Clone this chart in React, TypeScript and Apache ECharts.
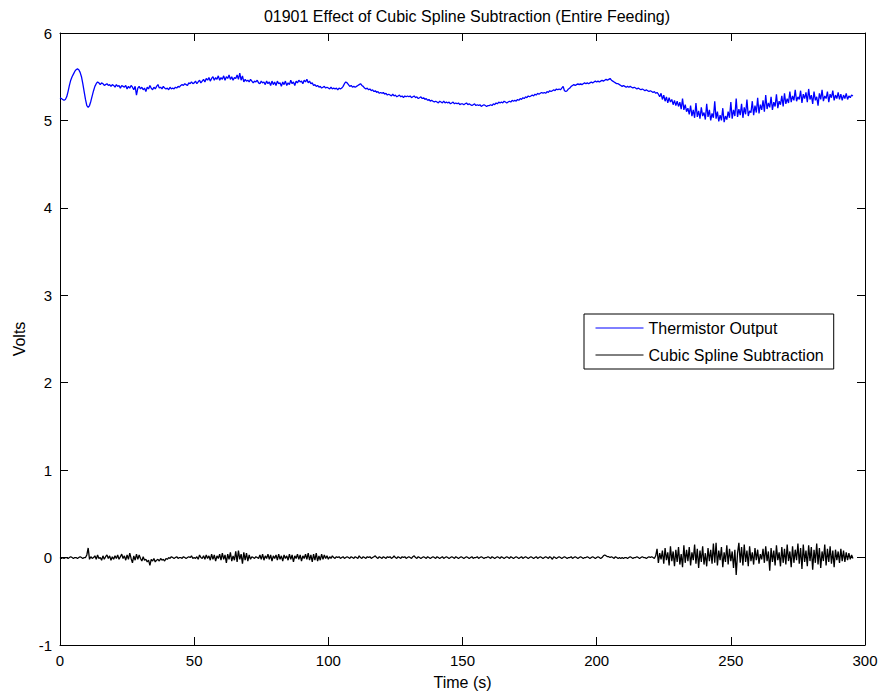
import { useEffect, useRef } from "react";
import * as echarts from "echarts";

// Seconds between consecutive samples (both traces share the same time base)
const SAMPLE_STEP = 0.5;

const TITLE = "01901 Effect of Cubic Spline Subtraction (Entire Feeding)";
const X_NAME = "Time (s)";
const Y_NAME = "Volts";
const SERIES_NAMES = ["Thermistor Output", "Cubic Spline Subtraction"];

// Raw thermistor voltage, one row per 10 s
const thermistorOutput = [
  5.26, 5.25, 5.24, 5.23, 5.24, 5.27, 5.33, 5.40, 5.46, 5.50, 5.53, 5.56, 5.58, 5.59, 5.58, 5.55, 5.50, 5.42, 5.33, 5.24,
  5.17, 5.15, 5.17, 5.22, 5.28, 5.34, 5.39, 5.42, 5.44, 5.43, 5.41, 5.43, 5.42, 5.40, 5.41, 5.42, 5.40, 5.41, 5.39, 5.41,
  5.40, 5.38, 5.41, 5.39, 5.40, 5.37, 5.40, 5.39, 5.38, 5.40, 5.36, 5.39, 5.37, 5.40, 5.38, 5.35, 5.39, 5.29, 5.37, 5.39,
  5.36, 5.38, 5.35, 5.37, 5.33, 5.38, 5.36, 5.40, 5.37, 5.35, 5.38, 5.36, 5.39, 5.41, 5.37, 5.38, 5.36, 5.39, 5.37, 5.36,
  5.37, 5.35, 5.38, 5.36, 5.37, 5.36, 5.38, 5.37, 5.39, 5.38, 5.40, 5.41, 5.40, 5.42, 5.41, 5.40, 5.43, 5.42, 5.44, 5.42,
  5.43, 5.45, 5.42, 5.44, 5.46, 5.43, 5.45, 5.47, 5.44, 5.48, 5.46, 5.49, 5.45, 5.48, 5.50, 5.46, 5.49, 5.47, 5.51, 5.46,
  5.49, 5.47, 5.51, 5.46, 5.50, 5.48, 5.52, 5.47, 5.50, 5.46, 5.49, 5.48, 5.52, 5.47, 5.54, 5.46, 5.51, 5.44, 5.47, 5.45,
  5.46, 5.44, 5.47, 5.45, 5.43, 5.45, 5.44, 5.46, 5.43, 5.42, 5.45, 5.43, 5.44, 5.41, 5.45, 5.42, 5.44, 5.40, 5.45, 5.41,
  5.44, 5.40, 5.45, 5.42, 5.43, 5.39, 5.44, 5.41, 5.45, 5.40, 5.43, 5.41, 5.46, 5.42, 5.44, 5.40, 5.45, 5.43, 5.46, 5.44,
  5.45, 5.42, 5.46, 5.44, 5.47, 5.43, 5.45, 5.42, 5.43, 5.40, 5.41, 5.39, 5.40, 5.38, 5.39, 5.37, 5.38, 5.39, 5.37, 5.38,
  5.37, 5.36, 5.38, 5.36, 5.37, 5.36, 5.37, 5.35, 5.37, 5.36, 5.37, 5.39, 5.42, 5.44, 5.43, 5.41, 5.39, 5.40, 5.38, 5.39,
  5.38, 5.39, 5.40, 5.41, 5.42, 5.40, 5.39, 5.37, 5.36, 5.37, 5.35, 5.36, 5.34, 5.35, 5.33, 5.34, 5.32, 5.33, 5.31, 5.32,
  5.31, 5.32, 5.30, 5.31, 5.29, 5.30, 5.29, 5.28, 5.30, 5.28, 5.29, 5.27, 5.28, 5.29, 5.27, 5.28, 5.26, 5.28, 5.27, 5.28,
  5.27, 5.28, 5.26, 5.27, 5.28, 5.26, 5.27, 5.25, 5.26, 5.27, 5.25, 5.26, 5.24, 5.25, 5.23, 5.24, 5.22, 5.23, 5.22, 5.21,
  5.22, 5.21, 5.20, 5.22, 5.21, 5.20, 5.22, 5.20, 5.21, 5.20, 5.21, 5.19, 5.20, 5.21, 5.19, 5.20, 5.19, 5.20, 5.18, 5.19,
  5.19, 5.18, 5.19, 5.20, 5.18, 5.19, 5.18, 5.17, 5.18, 5.19, 5.17, 5.18, 5.17, 5.18, 5.16, 5.17, 5.18, 5.17, 5.16, 5.17,
  5.17, 5.18, 5.17, 5.19, 5.18, 5.20, 5.19, 5.21, 5.20, 5.21, 5.20, 5.22, 5.21, 5.20, 5.21, 5.22, 5.21, 5.23, 5.22, 5.23,
  5.22, 5.24, 5.23, 5.25, 5.24, 5.26, 5.25, 5.27, 5.26, 5.28, 5.27, 5.28, 5.29, 5.28, 5.30, 5.29, 5.31, 5.30, 5.31, 5.32,
  5.31, 5.32, 5.31, 5.33, 5.32, 5.34, 5.33, 5.34, 5.35, 5.34, 5.36, 5.35, 5.36, 5.35, 5.37, 5.39, 5.34, 5.33, 5.34, 5.36,
  5.37, 5.39, 5.40, 5.41, 5.40, 5.41, 5.42, 5.41, 5.42, 5.41, 5.42, 5.43, 5.42, 5.43, 5.42, 5.43, 5.44, 5.43, 5.44, 5.45,
  5.44, 5.45, 5.44, 5.45, 5.46, 5.45, 5.46, 5.47, 5.46, 5.47, 5.48, 5.46, 5.45, 5.44, 5.43, 5.42, 5.42, 5.41, 5.40, 5.39,
  5.40, 5.39, 5.38, 5.39, 5.38, 5.39, 5.38, 5.37, 5.38, 5.37, 5.36, 5.37, 5.36, 5.35, 5.36, 5.35, 5.34, 5.35, 5.34, 5.33,
  5.34, 5.33, 5.32, 5.33, 5.31, 5.32, 5.30, 5.27, 5.31, 5.24, 5.29, 5.22, 5.27, 5.20, 5.26, 5.21, 5.24, 5.18, 5.23, 5.17,
  5.22, 5.16, 5.21, 5.13, 5.25, 5.12, 5.18, 5.10, 5.14, 5.07, 5.17, 5.05, 5.12, 5.03, 5.20, 5.04, 5.11, 5.02, 5.15, 5.05,
  5.09, 5.01, 5.19, 5.04, 5.12, 5.00, 5.08, 5.03, 5.22, 5.02, 5.10, 4.99, 5.06, 5.00, 5.14, 4.98, 5.05, 5.01, 5.10, 5.03,
  5.21, 5.02, 5.12, 5.05, 5.25, 5.04, 5.13, 5.06, 5.19, 5.03, 5.15, 5.07, 5.24, 5.05, 5.11, 5.09, 5.22, 5.06, 5.17, 5.09,
  5.26, 5.08, 5.18, 5.12, 5.23, 5.10, 5.29, 5.13, 5.20, 5.15, 5.27, 5.12, 5.21, 5.16, 5.30, 5.14, 5.22, 5.18, 5.28, 5.16,
  5.31, 5.19, 5.25, 5.20, 5.33, 5.21, 5.28, 5.23, 5.35, 5.22, 5.27, 5.24, 5.34, 5.20, 5.30, 5.25, 5.32, 5.21, 5.36, 5.24,
  5.29, 5.19, 5.33, 5.23, 5.27, 5.17, 5.31, 5.24, 5.35, 5.22, 5.28, 5.25, 5.33, 5.21, 5.30, 5.26, 5.34, 5.23, 5.29, 5.25,
  5.32, 5.24, 5.30, 5.23, 5.29, 5.25, 5.31, 5.24, 5.28, 5.26, 5.29, 5.28,
];

// Signal left after subtracting the cubic spline baseline, one row per 10 s
const splineSubtraction = [
  0.00, -0.01, 0.00, -0.01, 0.00, 0.00, -0.01, 0.00, 0.01, 0.00, -0.01, 0.00, 0.00, -0.01, 0.00, 0.01, 0.00, -0.01, 0.00, 0.00,
  0.03, 0.11, -0.02, 0.01, -0.01, 0.00, 0.02, -0.02, 0.03, -0.01, 0.00, -0.03, 0.02, -0.02, 0.01, 0.03, -0.01, 0.02, -0.03, 0.01,
  -0.02, 0.02, -0.01, 0.03, -0.02, 0.01, 0.04, -0.01, 0.02, -0.03, 0.03, -0.02, 0.05, -0.01, -0.06, 0.02, -0.03, 0.04, -0.02, 0.03,
  -0.01, -0.04, 0.01, -0.03, -0.02, -0.05, -0.03, -0.09, -0.02, -0.04, -0.01, -0.05, -0.03, -0.02, -0.04, -0.01, -0.03, -0.02, -0.04, -0.01,
  -0.02, 0.00, -0.01, 0.01, 0.00, -0.01, 0.00, 0.01, -0.01, 0.00, 0.00, -0.01, 0.01, 0.00, -0.01, 0.00, 0.01, 0.00, 0.02, -0.01,
  0.00, -0.01, 0.01, -0.02, 0.03, 0.00, -0.01, 0.02, -0.02, 0.03, -0.01, 0.02, -0.03, 0.04, -0.02, 0.03, -0.04, 0.02, -0.01, 0.04,
  -0.03, 0.05, -0.02, 0.03, -0.06, 0.04, -0.02, 0.06, -0.04, 0.02, -0.03, 0.07, -0.05, 0.08, -0.02, 0.04, -0.07, 0.06, -0.03, 0.05,
  -0.04, 0.03, -0.02, 0.01, 0.00, -0.01, 0.01, 0.00, -0.01, 0.03, -0.02, 0.04, -0.03, 0.02, -0.01, 0.04, -0.02, 0.03, -0.04, 0.02,
  -0.01, 0.03, -0.03, 0.04, -0.02, 0.02, -0.04, 0.03, -0.01, 0.02, -0.03, 0.04, -0.02, 0.03, -0.05, 0.02, -0.01, 0.04, -0.02, 0.03,
  -0.04, 0.02, -0.01, 0.04, -0.02, 0.05, -0.03, 0.03, -0.05, 0.04, -0.03, 0.05, -0.04, 0.02, -0.03, 0.04, -0.02, 0.03, -0.01, 0.02,
  -0.02, 0.01, -0.01, 0.02, 0.00, -0.01, 0.01, 0.00, 0.01, -0.01, 0.00, 0.01, -0.01, 0.00, 0.01, 0.00, -0.01, 0.01, 0.00, -0.01,
  0.01, 0.00, -0.01, 0.02, 0.00, -0.01, 0.01, 0.00, -0.01, 0.01, 0.00, 0.01, -0.01, 0.00, 0.01, 0.02, 0.00, -0.01, 0.01, 0.00,
  -0.01, 0.01, 0.00, -0.01, 0.01, 0.00, 0.01, -0.01, 0.00, 0.02, 0.00, -0.01, 0.01, 0.00, -0.01, 0.01, 0.00, 0.01, -0.01, 0.00,
  0.01, 0.00, -0.01, 0.01, 0.02, 0.00, -0.01, 0.01, 0.00, -0.01, 0.00, 0.01, 0.00, -0.01, 0.01, 0.00, -0.01, 0.00, 0.01, 0.00,
  -0.01, 0.01, 0.00, -0.01, 0.00, 0.01, -0.01, 0.00, 0.01, 0.00, -0.01, 0.00, 0.01, 0.00, -0.01, 0.01, 0.00, -0.01, 0.00, 0.01,
  0.00, -0.01, 0.00, 0.01, 0.00, -0.01, 0.00, 0.01, -0.01, 0.00, 0.00, 0.01, -0.01, 0.00, 0.01, 0.00, -0.01, 0.00, 0.00, 0.01,
  0.00, -0.01, 0.01, 0.00, -0.01, 0.00, 0.01, 0.00, -0.01, 0.01, 0.00, -0.01, 0.00, 0.01, 0.00, -0.01, 0.01, 0.00, -0.01, 0.00,
  0.01, 0.00, -0.01, 0.00, 0.01, -0.01, 0.00, 0.01, 0.00, -0.01, 0.00, 0.01, 0.00, -0.01, 0.00, 0.01, -0.01, 0.00, 0.01, 0.00,
  -0.01, 0.00, 0.01, 0.00, -0.01, 0.01, 0.00, -0.02, 0.01, 0.00, -0.01, 0.00, 0.01, 0.00, -0.01, 0.00, 0.01, 0.00, -0.01, 0.00,
  0.00, 0.01, -0.01, 0.00, 0.01, 0.00, -0.01, 0.00, 0.01, 0.00, -0.01, 0.00, 0.00, 0.01, 0.00, -0.01, 0.00, 0.01, 0.00, -0.01,
  0.00, 0.01, 0.00, -0.01, 0.00, 0.02, 0.03, 0.02, 0.01, 0.01, 0.00, 0.01, 0.00, -0.01, 0.01, 0.00, -0.01, 0.00, -0.01, 0.00,
  -0.01, 0.00, 0.00, -0.01, 0.00, 0.01, 0.00, -0.01, 0.00, 0.00, 0.01, 0.00, -0.01, 0.00, 0.01, 0.00, 0.00, -0.01, 0.00, 0.01,
  0.00, 0.01, 0.00, -0.01, 0.02, 0.10, -0.06, 0.05, -0.02, 0.08, -0.07, 0.11, -0.03, 0.06, -0.09, 0.13, -0.04, 0.07, -0.10, 0.09,
  -0.05, 0.12, -0.08, 0.04, -0.11, 0.14, -0.06, 0.09, -0.04, 0.12, -0.09, 0.06, -0.03, 0.15, -0.07, 0.10, -0.12, 0.08, -0.05, 0.13,
  -0.08, 0.05, -0.10, 0.11, -0.04, 0.09, -0.07, 0.16, -0.06, 0.17, -0.09, 0.08, -0.03, 0.12, -0.11, 0.06, -0.05, 0.14, -0.08, 0.10,
  -0.04, 0.07, -0.12, 0.09, -0.20, 0.05, 0.17, -0.06, 0.12, -0.09, 0.15, -0.05, 0.08, -0.10, 0.13, -0.04, 0.06, -0.08, 0.11, -0.03,
  0.09, -0.07, 0.04, -0.02, 0.10, -0.06, 0.13, -0.04, 0.07, -0.15, 0.11, -0.05, 0.08, -0.09, 0.14, -0.03, 0.06, -0.10, 0.12, -0.06,
  0.10, -0.08, 0.15, -0.04, 0.07, -0.11, 0.13, -0.06, 0.09, -0.03, 0.16, -0.07, 0.11, -0.13, 0.15, -0.05, 0.08, -0.10, 0.14, -0.04,
  0.12, -0.14, 0.09, -0.06, 0.16, -0.08, 0.11, -0.12, 0.07, -0.04, 0.15, -0.09, 0.10, -0.05, 0.13, -0.07, 0.08, -0.11, 0.09, -0.03,
  0.07, -0.06, 0.10, -0.04, 0.08, -0.05, 0.06, -0.03, 0.05, -0.02, 0.03, -0.01,
];

const X_RANGE = [0, 300];
const X_STEP = 50;
const Y_RANGE = [-1, 6];
const Y_STEP = 1;

const FONT = "'Liberation Sans', Arial, Helvetica, sans-serif";

export default function App() {
  const ref = useRef<HTMLDivElement>(null);

  useEffect(() => {
    document.body.style.margin = "0";
    const chart = echarts.init(ref.current!, null, { renderer: "svg" });

    const withTime = (values: number[]) =>
      values.map((v, i) => [i * SAMPLE_STEP, v]);

    const lineCol = "#000";
    const frameAxis = (showLabels: boolean) => ({
      axisLine: { show: true, onZero: false, lineStyle: { color: lineCol, width: 1 } },
      axisTick: { show: true, inside: true, length: 8, lineStyle: { color: lineCol, width: 1 } },
      axisLabel: {
        show: showLabels,
        color: "#000",
        fontFamily: FONT,
        fontSize: 15,
        margin: 8,
      },
      splitLine: { show: false },
    });

    chart.setOption({
      animation: false,
      backgroundColor: "#ffffff",
      title: {
        text: TITLE,
        left: 462,
        top: 3,
        textAlign: "center",
        textStyle: { fontFamily: FONT, fontSize: 16, fontWeight: "normal", color: "#000" },
      },
      grid: { left: 60, right: 16, top: 33, bottom: 51, containLabel: false },
      legend: {
        orient: "vertical",
        left: 584,
        top: 314,
        padding: [6, 10, 6, 11],
        itemWidth: 48,
        itemHeight: 14,
        itemGap: 11,
        backgroundColor: "#fff",
        borderColor: "#000",
        borderWidth: 1,
        borderRadius: 0,
        itemStyle: { opacity: 0 },
        lineStyle: { width: 1 },
        textStyle: { fontFamily: FONT, fontSize: 16, color: "#000" },
        data: SERIES_NAMES,
      },
      xAxis: [
        {
          type: "value",
          position: "bottom",
          min: X_RANGE[0],
          max: X_RANGE[1],
          interval: X_STEP,
          name: X_NAME,
          nameLocation: "middle",
          nameGap: 29,
          nameTextStyle: { fontFamily: FONT, fontSize: 16, color: "#000" },
          ...frameAxis(true),
        },
        {
          type: "value",
          position: "top",
          min: X_RANGE[0],
          max: X_RANGE[1],
          interval: X_STEP,
          ...frameAxis(false),
        },
      ],
      yAxis: [
        {
          type: "value",
          position: "left",
          min: Y_RANGE[0],
          max: Y_RANGE[1],
          interval: Y_STEP,
          name: Y_NAME,
          nameLocation: "middle",
          nameGap: 32,
          nameTextStyle: { fontFamily: FONT, fontSize: 16, color: "#000" },
          ...frameAxis(true),
        },
        {
          type: "value",
          position: "right",
          min: Y_RANGE[0],
          max: Y_RANGE[1],
          interval: Y_STEP,
          ...frameAxis(false),
        },
      ],
      series: [
        {
          name: SERIES_NAMES[0],
          type: "line",
          xAxisIndex: 0,
          yAxisIndex: 0,
          data: withTime(thermistorOutput),
          symbol: "none",
          lineStyle: { color: "#0000ff", width: 1.3 },
          itemStyle: { color: "#0000ff" },
        },
        {
          name: SERIES_NAMES[1],
          type: "line",
          xAxisIndex: 0,
          yAxisIndex: 0,
          data: withTime(splineSubtraction),
          symbol: "none",
          lineStyle: { color: "#000000", width: 1.3 },
          itemStyle: { color: "#000000" },
        },
      ],
    });

    return () => chart.dispose();
  }, []);

  return <div ref={ref} style={{ width: 881, height: 696 }} />;
}
